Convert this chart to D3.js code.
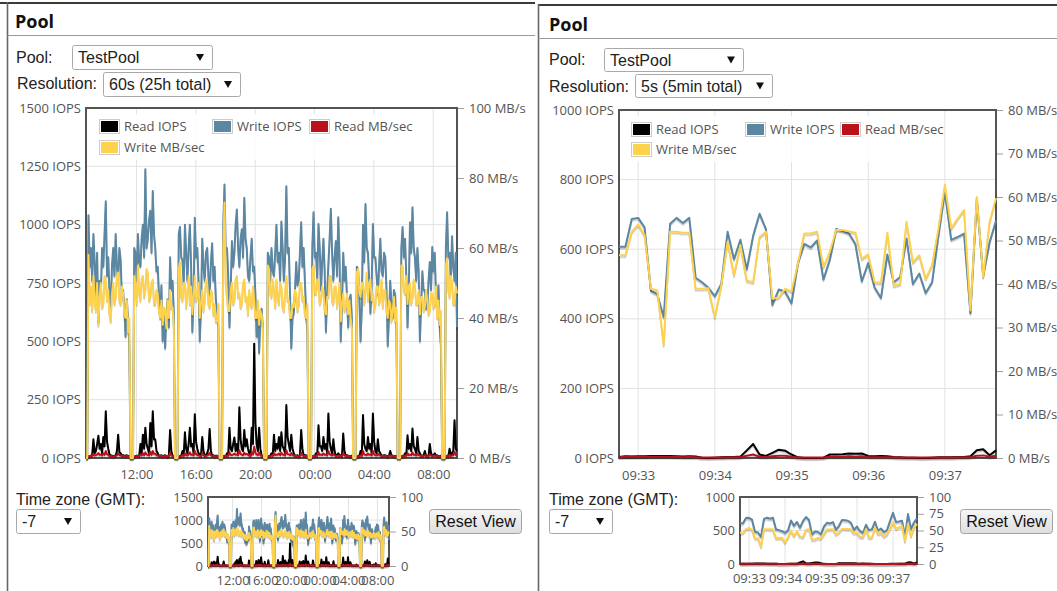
<!DOCTYPE html>
<html><head><meta charset="utf-8">
<script src="https://cdn.jsdelivr.net/npm/d3@7"></script>
<style>html,body{margin:0;padding:0;background:#fff;overflow:hidden;}svg{display:block;}</style>
</head><body>
<svg id="chart" width="1057" height="591"></svg>
<script>
// ================= DATA =================
const seriesNames  = ["Read IOPS", "Write IOPS", "Read MB/sec", "Write MB/sec"];
const seriesColors = ["#000000", "#5b87a3", "#bb111b", "#ffd24d"];

const leftStart = "08:36:00";
const leftStepSec = 300;
const leftWriteIops = [0,0,
 1040,820,900,760,960,840,700,880,580,760,700,900,820,960,1100,780,860,700,640,820,900,780,960,820,760,900,850,700,720,640,520,680,600,480,
 0,0,0,
 900,880,760,960,840,820,940,1000,860,1237,900,940,1020,1060,880,1144,960,900,800,820,700,600,740,500,640,470,620,680,560,860,720,760,620,
 0,0,0,
 960,990,860,850,740,1000,880,760,900,1000,820,540,700,1030,860,900,760,500,640,940,820,760,880,900,780,700,840,920,760,820,680,620,560,
 0,0,0,
 1000,1172,880,900,780,560,720,930,820,880,1000,1065,900,820,940,980,860,1115,940,900,780,760,860,940,800,820,700,520,640,450,600,640,560,
 0,0,0,
 880,860,760,900,800,780,880,1000,840,880,760,1014,900,760,860,1165,880,900,700,470,600,620,720,840,740,760,880,1010,820,900,760,620,540,
 0,0,0,
 900,1053,860,880,760,1003,900,720,840,940,800,540,700,830,940,1068,880,760,860,930,780,1032,860,500,660,880,760,820,700,560,680,700,600,
 0,0,0,
 820,810,700,500,640,1000,840,1089,900,880,760,620,740,1003,860,860,780,700,820,940,800,780,880,860,720,480,600,760,660,600,720,700,560,
 0,0,0,
 900,990,860,940,780,560,720,1010,880,1075,900,860,760,900,800,500,660,800,720,720,640,640,760,840,720,904,800,880,700,620,740,560,480,
 0,0,0,
 900,1053,860,880,760,950,820,760,880,560];
const leftWriteMB = [0,0,
 58,44,49,42,52,45,42,50,38,46,50,43,44,52,51,45,48,41,39,47,50,44,46,52,53,45,44,49,47,41,40,45,36,40,
 0,0,0,
 52,49,44,55,47,45,51,52,46,48,54,53,45,46,50,51,44,44,48,47,42,40,45,38,43,42,37,45,40,48,43,43,38,
 0,0,0,
 54,56,46,45,50,50,43,47,52,44,49,41,46,52,45,46,50,40,44,48,42,45,51,50,44,43,48,47,41,44,39,39,44,
 0,0,0,
 60,73,50,46,42,42,48,50,44,45,51,52,46,47,43,44,50,51,45,46,41,48,44,43,49,45,40,40,45,38,42,41,37,
 0,0,0,
 55,54,47,46,51,48,43,51,46,44,50,49,43,42,47,52,45,45,40,40,44,43,48,47,42,44,50,50,45,46,41,40,44,
 0,0,0,
 54,55,47,47,51,50,44,45,49,48,42,41,46,46,52,52,45,44,49,49,43,46,50,39,44,47,42,43,47,41,45,40,37,
 0,0,0,
 53,54,47,46,50,50,44,48,53,45,50,51,45,47,42,44,49,49,44,46,51,43,48,48,42,40,45,44,39,42,46,39,43,
 0,0,0,
 55,55,48,47,52,44,49,50,44,46,51,49,44,44,48,41,46,46,42,43,48,45,41,42,47,47,43,44,49,40,45,38,42,
 0,0,0,
 55,57,48,46,52,50,44,44,49,47];
const leftReadIops = [0,0,
 5,8,10,12,80,20,30,60,95,40,60,20,90,50,200,70,40,15,12,10,8,10,10,30,100,25,20,10,12,10,10,12,8,10,
 0,0,0,
 5,8,10,10,8,60,20,100,40,130,60,40,20,150,50,200,80,80,30,20,10,10,12,8,10,12,8,6,10,120,30,10,8,
 0,0,0,
 5,8,10,30,12,110,40,20,60,130,50,60,20,188,70,40,20,15,10,90,30,10,12,20,40,124,30,10,12,8,10,10,8,
 0,0,0,
 5,10,8,20,12,130,40,30,60,88,30,60,20,217,80,40,30,120,50,80,40,20,10,130,60,490,150,60,30,130,40,10,8,
 0,0,0,
 5,8,10,20,12,100,30,60,40,90,30,110,50,40,20,227,90,60,30,100,40,20,10,10,12,8,10,120,40,10,12,12,8,
 0,0,0,
 5,10,8,20,12,140,50,50,30,90,40,60,20,191,70,40,20,80,30,10,12,20,10,12,8,105,30,10,12,10,8,8,10,
 0,0,0,
 5,8,10,30,12,184,60,40,30,90,40,60,20,191,70,30,20,80,30,20,10,10,12,12,8,8,10,30,12,10,8,8,10,
 0,0,0,
 5,10,8,20,12,97,40,60,30,126,50,40,20,90,30,20,10,10,12,30,10,8,10,60,20,10,12,20,10,12,8,8,10,
 0,0,0,
 5,10,8,40,12,20,30,162,40,30];
const leftReadMB = [0,0,
 0.5,0.5,0.6,0.6,1.2,0.7,0.8,1,1.4,0.9,1,0.7,1.3,0.9,2,1.1,0.9,0.6,0.6,0.5,0.5,0.5,0.6,0.8,1.3,0.8,0.7,0.6,0.6,0.5,0.5,0.6,0.5,0.5,
 0,0,0,
 0.4,0.5,0.5,0.6,0.5,1,0.7,1.4,0.8,1.6,1,0.9,0.7,1.8,0.9,2,1.2,1.2,0.8,0.7,0.6,0.6,0.6,0.5,0.6,0.6,0.5,0.5,0.6,1.5,0.7,0.6,0.5,
 0,0,0,
 0.4,0.5,0.5,0.8,0.6,1.4,0.8,0.7,1,1.6,0.9,1,0.7,2,1.1,0.9,0.7,0.6,0.5,1.3,0.8,0.6,0.6,0.7,0.9,1.5,0.8,0.6,0.6,0.5,0.5,0.6,0.5,
 0,0,0,
 0.4,0.6,0.6,0.7,0.6,1.6,0.9,0.8,1,1.3,0.9,1,0.8,2.2,1.2,0.9,0.8,1.5,1,1.2,0.9,0.7,0.6,1.6,1,3.2,1.6,1,0.8,1.6,0.8,0.6,0.5,
 0,0,0,
 0.4,0.5,0.5,0.7,0.6,1.4,0.8,1,0.9,1.3,0.8,1.5,1,0.9,0.7,2.2,1.2,1,0.8,1.4,0.8,0.7,0.6,0.6,0.6,0.5,0.5,1.5,0.8,0.6,0.6,0.6,0.5,
 0,0,0,
 0.4,0.6,0.5,0.7,0.6,1.7,0.9,1,0.8,1.3,0.9,1,0.7,2,1.1,0.9,0.7,1.2,0.8,0.6,0.6,0.7,0.6,0.6,0.5,1.4,0.8,0.6,0.6,0.6,0.5,0.5,0.5,
 0,0,0,
 0.4,0.5,0.5,0.8,0.6,2,1,0.9,0.8,1.3,0.9,1,0.7,2,1.1,0.8,0.7,1.2,0.8,0.7,0.6,0.6,0.6,0.6,0.5,0.5,0.5,0.8,0.6,0.6,0.5,0.5,0.5,
 0,0,0,
 0.4,0.6,0.5,0.7,0.6,1.4,0.8,1,0.8,1.6,0.9,0.9,0.7,1.3,0.8,0.7,0.6,0.6,0.6,0.8,0.6,0.5,0.5,1,0.7,0.6,0.6,0.7,0.6,0.6,0.5,0.5,0.5,
 0,0,0,
 0.4,0.6,0.5,0.9,0.6,0.7,0.8,1.8,0.9,0.8];
const leftTimeTicks = ["12:00", "16:00", "20:00", "00:00", "04:00", "08:00"];
const leftIopsTicks = [0, 250, 500, 750, 1000, 1250, 1500];
const leftMBTicks = [0, 20, 40, 60, 80, 100];
const leftMiniIopsTicks = [0, 500, 1000, 1500];
const leftMiniMBTicks = [0, 50, 100];

// ---- right view: resolution 5s, 5 min total ----
const rightStart = "09:32:45";
const rightStepSec = 5;
const rightReadIops = [3,5,4,5,5,6,6,6,6,5, 4,5,4,1,0,1,2,3,3,4, 22,40,10,6,15,24,21,10,2,0,
 0,0,1,10,10,11,13,12,13,6, 5,6,5,3,2,1,1,0,0,1, 2,2,2,3,3,5,22,25,8,22];
const rightWriteIops = [607,607,687,690,663,480,470,405,673,690, 675,690,518,505,489,465,500,650,571,627,
 542,639,702,658,440,484,478,445,560,615, 605,625,513,570,658,652,645,615,508,560,
 490,460,585,505,520,631,500,530,474,505, 640,765,627,635,645,416,745,523,620,682];
const rightReadMB = [0.2,0.3,0.3,0.3,0.3,0.3,0.3,0.3,0.3,0.3, 0.2,0.3,0.2,0.1,0.1,0.1,0.1,0.2,0.2,0.2,
 0.5,0.8,0.3,0.2,0.4,0.5,0.5,0.3,0.1,0.1, 0.1,0.1,0.1,0.3,0.3,0.3,0.4,0.3,0.4,0.2,
 0.2,0.2,0.2,0.2,0.1,0.1,0.1,0.1,0.1,0.1, 0.1,0.1,0.1,0.2,0.2,0.2,0.5,0.6,0.3,0.5];
const rightWriteMB = [46.6,46.6,52,53.7,51.2,38.9,38.5,26,52,52, 51.8,51.8,38.9,38.9,39,32.3,39.6,49.7,42,48.9,
 40.8,40.4,50.8,52,36.6,36.9,38.9,38.3,44.7,51.6, 51.6,52,43.9,47.4,52.4,52.4,52.1,51.8,45.8,46.8,
 40.4,40.3,51.8,39.6,40,54.3,45,46.6,41.2,44.3, 52.8,62.8,52.8,55,57,33.9,60,41.6,54.3,59.7];
const rightTimeTicks = ["09:33", "09:34", "09:35", "09:36", "09:37"];
const rightIopsTicks = [0, 200, 400, 600, 800, 1000];
const rightMBTicks = [0, 10, 20, 30, 40, 50, 60, 70, 80];
const rightMiniIopsTicks = [0, 500, 1000];
const rightMiniMBTicks = [0, 25, 50, 75, 100];

// form texts
const poolName = "TestPool";
const leftResolution = "60s (25h total)";
const rightResolution = "5s (5min total)";
const timeZone = "-7";

// ================= DRAWING =================
const svg = d3.select("#chart");
const CF = "'Open Sans', 'DejaVu Sans', sans-serif";
const FF = "'Liberation Sans', Arial, sans-serif";
const LABEL = "#545454";

svg.append("rect").attr("width", 1057).attr("height", 591).attr("fill", "#fff");

function parseClock(s, day) {
  const p = s.split(":").map(Number);
  return new Date(2016, 0, 1 + day, p[0], p[1], p[2] || 0);
}

function chrome(p) {
  svg.append("line").attr("x1", p.lineX0).attr("x2", p.lineX1)
    .attr("y1", p.top).attr("y2", p.top).attr("stroke", "#3a3a3a").attr("stroke-width", 2);
  svg.append("line").attr("x1", p.left).attr("x2", p.left).attr("y1", p.top - 1).attr("y2", 591)
    .attr("stroke", "#666").attr("stroke-width", 1.6);
  svg.append("line").attr("x1", p.left).attr("x2", p.lineX1).attr("y1", p.sep).attr("y2", p.sep)
    .attr("stroke", "#9a9a9a").attr("stroke-width", 1);
  svg.append("text").attr("x", p.titleX).attr("y", p.titleY).text("Pool")
    .attr("font-family", CF).attr("font-weight", "bold").attr("font-size", 18).attr("fill", "#111");
}

function formText(x, y, s) {
  svg.append("text").attr("x", x).attr("y", y).text(s)
    .attr("font-family", FF).attr("font-size", 16).attr("fill", "#222");
}

function selectBox(x, y, w, h, label) {
  const g = svg.append("g");
  g.append("rect").attr("x", x + 0.5).attr("y", y + 0.5).attr("width", w).attr("height", h)
    .attr("rx", 2).attr("fill", "#fff").attr("stroke", "#a9a9a9");
  g.append("text").attr("x", x + 6).attr("y", y + h / 2 + 6).text(label)
    .attr("font-family", FF).attr("font-size", 16).attr("fill", "#222");
  g.append("path").attr("d", `M${x + w - 16},${y + h / 2 - 3}h8l-4,7z`).attr("fill", "#111");
}

const defs = svg.append("defs");
const grad = defs.append("linearGradient").attr("id", "btn").attr("x1", 0).attr("x2", 0).attr("y1", 0).attr("y2", 1);
grad.append("stop").attr("offset", "0%").attr("stop-color", "#f6f6f6");
grad.append("stop").attr("offset", "100%").attr("stop-color", "#dedede");

function button(x, y, w, h, label) {
  svg.append("rect").attr("x", x + 0.5).attr("y", y + 0.5).attr("width", w).attr("height", h)
    .attr("rx", 3).attr("fill", "url(#btn)").attr("stroke", "#a3a3a3");
  svg.append("text").attr("x", x + w / 2 + 0.5).attr("y", y + h / 2 + 6).attr("text-anchor", "middle")
    .text(label).attr("font-family", FF).attr("font-size", 16).attr("fill", "#111");
}

function drawChart(c) {
  const g = svg.append("g");
  const n = c.data[0].length;
  const t0 = parseClock(c.start, 0);
  const times = d3.range(n).map(i => new Date(+t0 + i * c.stepSec * 1000));
  const x = d3.scaleTime().domain(d3.extent(times)).range([c.x0, c.x1]);
  const yL = d3.scaleLinear().domain([0, c.leftMax]).range([c.y1, c.y0]);
  const yR = d3.scaleLinear().domain([0, c.rightMax]).range([c.y1, c.y0]);
  const tickDates = c.xTicks.map(s => { let d = parseClock(s, 0); if (d < t0) d = parseClock(s, 1); return d; });

  // grid
  g.append("g").selectAll("line").data(c.leftTicks.filter(v => v > 0 && v < c.leftMax)).join("line")
    .attr("x1", c.x0).attr("x2", c.x1).attr("y1", d => yL(d)).attr("y2", d => yL(d))
    .attr("stroke", "#e2e2e2").attr("stroke-width", 1);
  g.append("g").selectAll("line").data(tickDates).join("line")
    .attr("x1", d => x(d)).attr("x2", d => x(d)).attr("y1", c.y0).attr("y2", c.y1)
    .attr("stroke", "#e2e2e2").attr("stroke-width", 1);

  // frame
  g.append("rect").attr("x", c.x0).attr("y", c.y0).attr("width", c.x1 - c.x0).attr("height", c.y1 - c.y0)
    .attr("fill", "none").attr("stroke", "#545454").attr("stroke-width", 2);

  // axes
  const axL = g.append("g").attr("transform", `translate(${c.x0},0)`)
    .call(d3.axisLeft(yL).tickValues(c.leftTicks).tickFormat(c.leftFmt).tickSize(0).tickPadding(c.lpad));
  const axR = g.append("g").attr("transform", `translate(${c.x1},0)`)
    .call(d3.axisRight(yR).tickValues(c.rightTicks).tickFormat(c.rightFmt).tickSize(6).tickPadding(c.rpad));
  const axB = g.append("g").attr("transform", `translate(0,${c.y1})`)
    .call(d3.axisBottom(x).tickValues(tickDates).tickFormat(d3.timeFormat("%H:%M")).tickSize(0).tickPadding(c.bpad));
  [axL, axR, axB].forEach(a => {
    a.select(".domain").remove();
    a.attr("font-family", CF).attr("font-size", 13).attr("color", LABEL);
  });
  axR.selectAll(".tick line").attr("stroke", "#a0a0a0").attr("transform", "translate(1,0)");

  // series (drawn above frame, with flot-like shadows)
  const scaleOf = [yL, yL, yR, yR];
  c.data.forEach((vals, s) => {
    const line = d3.line().x((v, i) => x(times[i])).y(v => scaleOf[s](v));
    const dStr = line(vals);
    const lw = c.lw;
    g.append("path").attr("d", dStr).attr("transform", `translate(0,${lw * 1.2})`)
      .attr("fill", "none").attr("stroke", "rgba(0,0,0,0.1)").attr("stroke-width", lw * 0.8).attr("stroke-linejoin", "round");
    g.append("path").attr("d", dStr).attr("transform", `translate(0,${lw * 0.7})`)
      .attr("fill", "none").attr("stroke", "rgba(0,0,0,0.15)").attr("stroke-width", lw * 0.8).attr("stroke-linejoin", "round");
    g.append("path").attr("d", dStr).attr("fill", "none").attr("stroke", seriesColors[s])
      .attr("stroke-width", lw).attr("stroke-linejoin", "round");
  });

  // legend
  if (c.legend) {
    const L = c.legend;
    g.append("rect").attr("x", L.bg[0]).attr("y", L.bg[1]).attr("width", L.bg[2]).attr("height", L.bg[3])
      .attr("fill", "#fff").attr("opacity", 0.85);
    seriesNames.forEach((name, s) => {
      const [sx, sy] = L.items[s];
      g.append("rect").attr("x", sx + 0.5).attr("y", sy + 0.5).attr("width", 20).attr("height", 14)
        .attr("fill", "#fff").attr("stroke", "#ccc");
      g.append("rect").attr("x", sx + 2).attr("y", sy + 2).attr("width", 17).attr("height", 11)
        .attr("fill", seriesColors[s]);
      g.append("text").attr("x", sx + 25).attr("y", sy + 12).text(name)
        .attr("font-family", CF).attr("font-size", 13).attr("fill", LABEL);
    });
  }
}

// ---------- LEFT PANEL ----------
chrome({lineX0: 0, lineX1: 535, top: 3, left: 7.5, sep: 35.5, titleX: 15, titleY: 28});
formText(16, 63, "Pool:");
selectBox(72, 45, 140, 24, poolName);
formText(17, 89, "Resolution:");
selectBox(103, 72, 137, 24, leftResolution);
formText(16, 505, "Time zone (GMT):");
selectBox(16, 509, 64, 24, timeZone);
button(429, 509, 92, 24, "Reset View");

drawChart({
  data: [leftReadIops, leftWriteIops, leftReadMB, leftWriteMB],
  start: leftStart, stepSec: leftStepSec,
  x0: 86, x1: 457, y0: 108, y1: 458,
  leftMax: 1500, rightMax: 100,
  leftTicks: leftIopsTicks, rightTicks: leftMBTicks, xTicks: leftTimeTicks,
  leftFmt: d => d + " IOPS", rightFmt: d => d + " MB/s",
  lpad: 5, rpad: 6, bpad: 11.5, lw: 2,
  legend: {bg: [94, 114, 326, 46], items: [[99, 119], [212, 119], [309, 119], [99, 140]]}
});
drawChart({
  data: [leftReadIops, leftWriteIops, leftReadMB, leftWriteMB],
  start: leftStart, stepSec: leftStepSec,
  x0: 208, x1: 389, y0: 497, y1: 566,
  leftMax: 1500, rightMax: 100,
  leftTicks: leftMiniIopsTicks, rightTicks: leftMiniMBTicks, xTicks: leftTimeTicks,
  leftFmt: d => d, rightFmt: d => d,
  lpad: 5, rpad: 6, bpad: 10, lw: 2
});

// ---------- RIGHT PANEL ----------
chrome({lineX0: 538, lineX1: 1057, top: 5, left: 538.5, sep: 38.5, titleX: 549, titleY: 31});
formText(549, 65, "Pool:");
selectBox(604, 48, 139, 23, poolName);
formText(549, 92, "Resolution:");
selectBox(635, 74, 137, 23, rightResolution);
formText(549, 505, "Time zone (GMT):");
selectBox(549, 509, 63, 24, timeZone);
button(960, 509, 92, 24, "Reset View");

drawChart({
  data: [rightReadIops, rightWriteIops, rightReadMB, rightWriteMB],
  start: rightStart, stepSec: rightStepSec,
  x0: 619, x1: 996, y0: 110, y1: 458,
  leftMax: 1000, rightMax: 80,
  leftTicks: rightIopsTicks, rightTicks: rightMBTicks, xTicks: rightTimeTicks,
  leftFmt: d => d + " IOPS", rightFmt: d => d + " MB/s",
  lpad: 5, rpad: 6, bpad: 12.5, lw: 2,
  legend: {bg: [626, 116, 316, 46], items: [[631, 122], [745, 122], [840, 122], [631, 142]]}
});
drawChart({
  data: [rightReadIops, rightWriteIops, rightReadMB, rightWriteMB],
  start: rightStart, stepSec: rightStepSec,
  x0: 740, x1: 917, y0: 497, y1: 564,
  leftMax: 1000, rightMax: 100,
  leftTicks: rightMiniIopsTicks, rightTicks: rightMiniMBTicks, xTicks: rightTimeTicks,
  leftFmt: d => d, rightFmt: d => d,
  lpad: 5, rpad: 6, bpad: 10, lw: 2
});
</script>
</body></html>
